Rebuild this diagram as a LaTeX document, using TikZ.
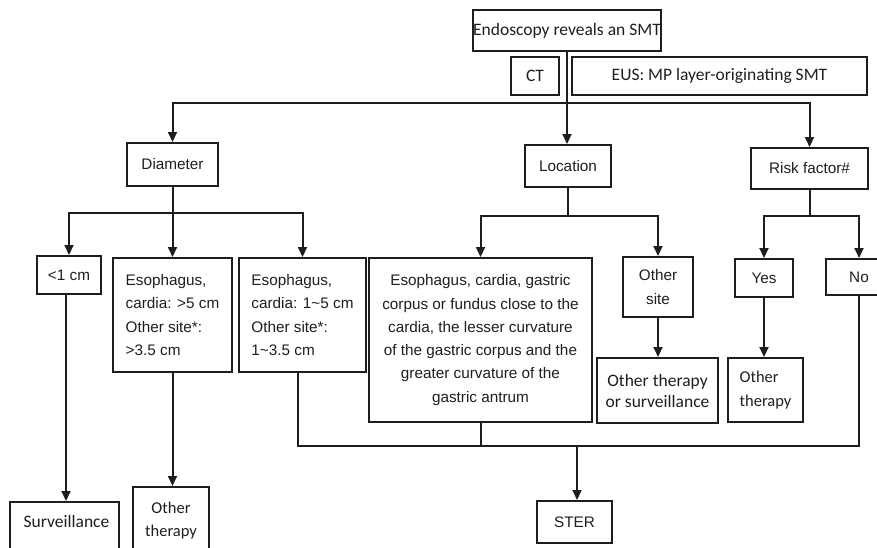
\documentclass[tikz,border=0pt]{standalone}
\usepackage{fontspec}
\setmainfont{Liberation Sans}
\newfontfamily\carl{Carlito}
\usetikzlibrary{arrows.meta,calc}
\definecolor{ink}{HTML}{1E1E1E}
\tikzset{
  box/.style={draw=ink, line width=2pt, inner sep=0pt, text=ink,
    font=\fontsize{15.3}{23.3}\selectfont},
  cbox/.style={box, font=\carl\fontsize{17.5}{21}\selectfont},
  txt/.style={inner sep=0pt, text=ink},
  ln/.style={draw=ink, line width=2pt},
  arr/.style={ln, -{Triangle[length=10pt,width=9pt]}}
}
\begin{document}
\begin{tikzpicture}[x=1pt,y=-1pt]
\useasboundingbox (0,0) rectangle (877,547);
\clip (0,0) rectangle (877,547);
% top
\node[cbox, minimum width=188, minimum height=41] (endo) at (567,30.5) {Endoscopy reveals an SMT};
\node[cbox, minimum width=48, minimum height=38] (ct) at (535,76) {CT};
\node[cbox, minimum width=295, minimum height=38] (eus) at (719.5,76) {EUS: MP layer-originating SMT};
% level 2
\node[box, minimum width=91, minimum height=43] (diam) at (172.5,164.5) {Diameter};
\node[box, minimum width=86, minimum height=42] (loc) at (568,166) {Location};
\node[box, minimum width=117, minimum height=41] (risk) at (809.5,168.5) {Risk factor\#};
% level 3
\node[box, minimum width=64, minimum height=38] (lt1) at (69,275) {<1 cm};
\node[box, minimum width=119, minimum height=114, align=left] (gt5) at (172.5,315)
  {Esophagus,\\cardia: >5 cm\\Other site*:\\>3.5 cm};
\node[box, minimum width=127, minimum height=114, align=left] (r15) at (302.5,315)
  {Esophagus,\\cardia: 1\textasciitilde5 cm\\Other site*:\\1\textasciitilde3.5 cm};
\node[box, minimum width=223, minimum height=164, align=center] (big) at (480.5,340)
  {Esophagus, cardia, gastric\\corpus or fundus close to the\\cardia, the lesser curvature\\of the gastric corpus and the\\greater curvature of the\\gastric antrum};
\node[box, minimum width=70, minimum height=60, align=center] (osite) at (658,287) {Other\\site};
\node[box, minimum width=58, minimum height=38] (yes) at (764,278) {Yes};
\node[box, minimum width=66, minimum height=36] (no) at (859,277) {No};
% level 4
\node[cbox, minimum width=121, minimum height=65, align=center] (otos) at (657.5,390.5)
  {Other therapy\\or surveillance};
\node[cbox, minimum width=75, minimum height=64, align=left,
  font=\carl\fontsize{16.5}{24}\selectfont] (oth2) at (765.5,390) {Other\\therapy};
% bottom
\node[box, minimum width=109, minimum height=80, anchor=north] (surv) at (64.5,501) {};
\node[txt, font=\carl\fontsize{17.5}{21}\selectfont] (survt) at (66.5,521) {Surveillance};
\node[box, minimum width=76, minimum height=80, anchor=north] (oth1) at (171,486) {};
\node[txt, align=center, font=\carl\fontsize{16.5}{23}\selectfont] (oth1t) at (171,520.5) {Other\\therapy};
\node[box, minimum width=75, minimum height=42] (ster) at (574.5,522) {STER};
% connectors
\coordinate (b1) at (567,103);
\draw[arr] (endo.south) -- (endo.south |- loc.north);
\draw[arr] (b1) -| (diam.north);
\draw[arr] (b1) -| (risk.north);
% diameter
\coordinate (d1) at (172.5,213);
\draw[ln] (diam.south) -- (d1);
\draw[arr] (d1) -| (lt1.north);
\draw[arr] (d1) -- (gt5.north);
\draw[arr] (d1) -| (r15.north);
% location
\coordinate (l1) at (568,216);
\draw[ln] (loc.south) -- (l1);
\draw[arr] (l1) -| (big.north);
\draw[arr] (l1) -| (osite.north);
% risk
\coordinate (r1) at (809.5,216);
\draw[ln] (risk.south) -- (r1);
\draw[arr] (r1) -| (yes.north);
\draw[arr] (r1) -| (no.north);
% downwards
\draw[arr] (lt1.south -| surv.north) ++(1.5,0) coordinate (s0) -- (s0 |- surv.north);
\draw[arr] (gt5.south) -- (gt5.south |- oth1.north);
\draw[arr] (osite.south) -- (osite.south |- otos.north);
\draw[arr] (yes.south) -- (yes.south |- oth2.north);
% merge to STER
\coordinate (m) at (577,446);
\draw[ln] ($(r15.south)+(-4.5,0)$) |- (m) -| (no.south);
\draw[ln] (big.south) -- (big.south |- m);
\draw[arr] (m) -- (m |- ster.north);
\end{tikzpicture}
\end{document}
